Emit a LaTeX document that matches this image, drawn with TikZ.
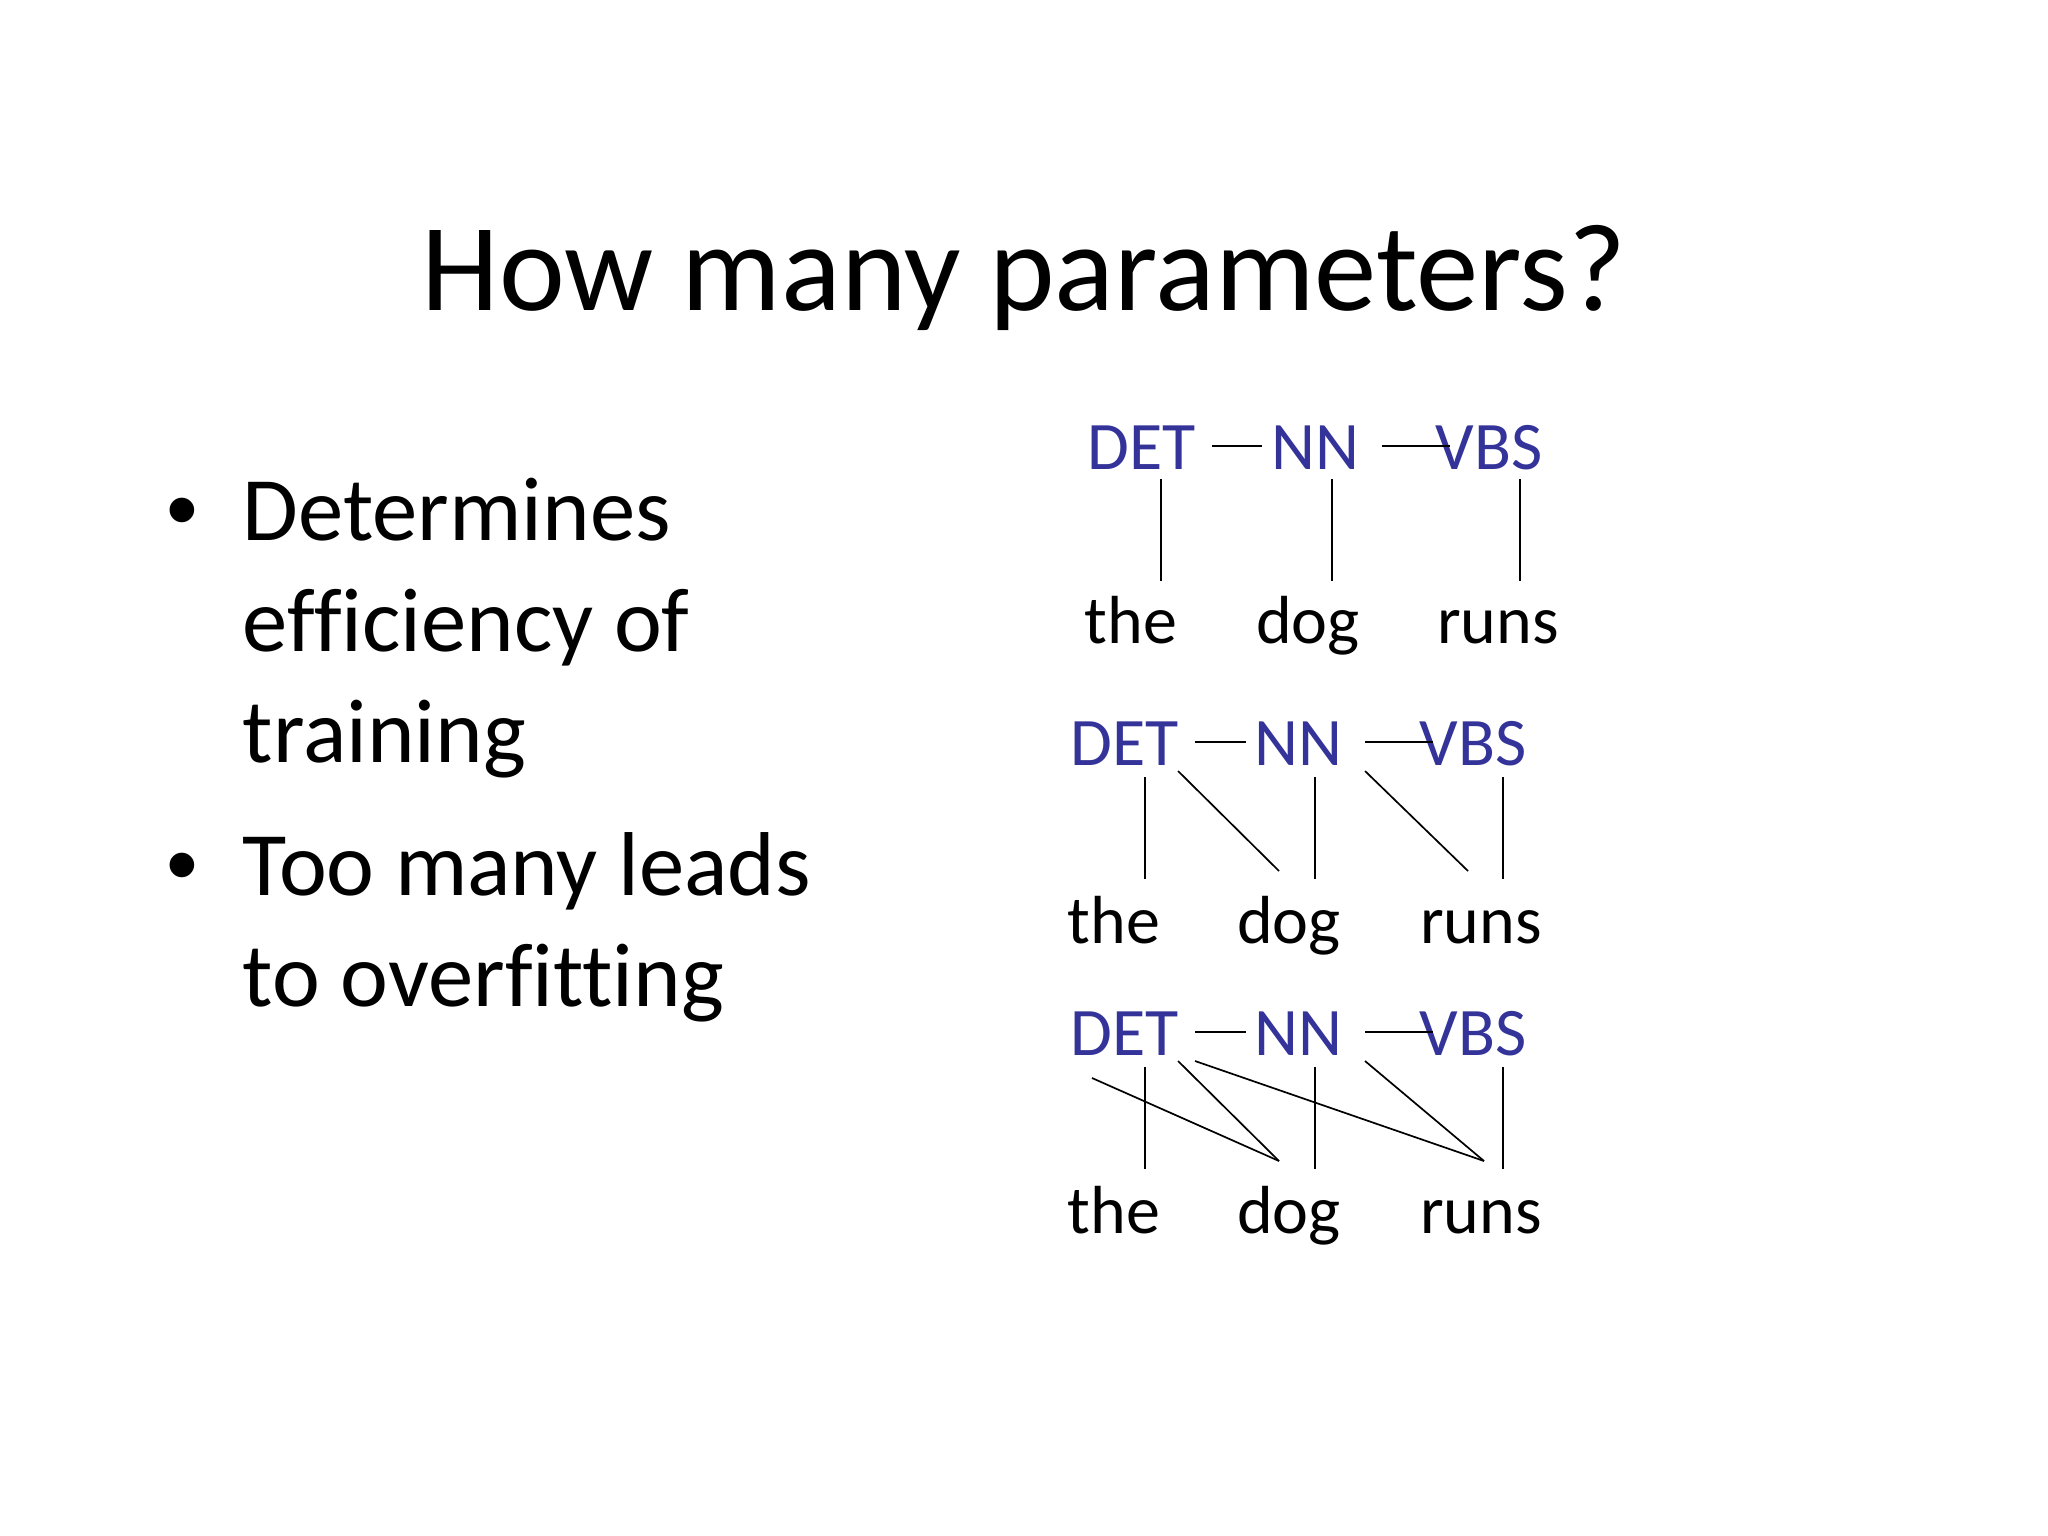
\documentclass[tikz,border=0pt]{standalone}
\usepackage{fontspec}
\setmainfont{Carlito}[Ligatures=NoCommon]
\newfontfamily\bulletfont{Liberation Sans}
\usetikzlibrary{calc}
\definecolor{tagblue}{RGB}{51,51,153}

\begin{document}
\begin{tikzpicture}[x=0.3515625bp, y=-0.3515625bp, line width=0.6pt,
  tag/.style={anchor=base, inner sep=0pt, text=tagblue, font=\fontsize{24}{28}\selectfont},
  word/.style={anchor=base, inner sep=0pt, font=\fontsize{24}{28}\selectfont},
  item/.style={anchor=base west, inner sep=0pt, align=left, font=\fontsize{32}{39}\selectfont},
  dot/.style={anchor=base, inner sep=0pt, font=\bulletfont\fontsize{32}{39}\selectfont}]
\useasboundingbox (0,0) rectangle (2048,1536);

% title and bullets (item nodes sit on their last line)
\node[anchor=base, inner sep=0pt, font=\fontsize{44}{52}\selectfont] (title) at (1024,310) {How many parameters?};
\node[dot] (b1) at (182,540) {•};
\node[item] (p1) at (242,762) {Determines\\efficiency of\\training};
\node[dot] (b2) at (182,895) {•};
\node[item] (p2) at (242,1006) {Too many leads\\to overfitting};

% one parameter per tag
\draw (1142,469) node[tag](det1){DET}
    (1315,469) node[tag](nn1){NN}
    (1489,469) node[tag](vbs1){VBS}
    (1131,643) node[word](the1){the}
    (1308,643) node[word](dog1){dog}
    (1498,643) node[word](runs1){runs};
    \draw ($(det1.base)+(70,-23)$) -- ($(nn1.base)+(-53,-23)$);
    \draw ($(nn1.base)+(67,-23)$) -- ($(vbs1.base)+(-39,-23)$);
    \draw ($(det1.base)+(19,10)$) -- ($(the1.base)+(30,-62)$);
    \draw ($(nn1.base)+(17,10)$) -- ($(dog1.base)+(24,-62)$);
    \draw ($(vbs1.base)+(31,10)$) -- ($(runs1.base)+(22,-62)$);

% word also depends on previous tag
\draw (1125,765) node[tag](det2){DET}
    (1298,765) node[tag](nn2){NN}
    (1473,765) node[tag](vbs2){VBS}
    (1114,943) node[word](the2){the}
    (1289,943) node[word](dog2){dog}
    (1481,943) node[word](runs2){runs};
    \draw ($(det2.base)+(70,-23)$) -- ($(nn2.base)+(-52,-23)$);
    \draw ($(nn2.base)+(67,-23)$) -- ($(vbs2.base)+(-40,-23)$);
    \draw ($(det2.base)+(20,12)$) -- ($(the2.base)+(31,-64)$);
    \draw ($(nn2.base)+(17,12)$) -- ($(dog2.base)+(26,-64)$);
    \draw ($(vbs2.base)+(30,12)$) -- ($(runs2.base)+(22,-64)$);
    \draw ($(det2.base)+(53,6)$) -- ($(dog2.base)+(-10,-72)$);
    \draw ($(nn2.base)+(67,6)$) -- ($(runs2.base)+(-13,-72)$);

% and on the tag before that
\draw (1125,1055) node[tag](det3){DET}
    (1298,1055) node[tag](nn3){NN}
    (1473,1055) node[tag](vbs3){VBS}
    (1114,1233) node[word](the3){the}
    (1289,1233) node[word](dog3){dog}
    (1481,1233) node[word](runs3){runs};
    \draw ($(det3.base)+(70,-23)$) -- ($(nn3.base)+(-52,-23)$);
    \draw ($(nn3.base)+(67,-23)$) -- ($(vbs3.base)+(-40,-23)$);
    \draw ($(det3.base)+(20,12)$) -- ($(the3.base)+(31,-64)$);
    \draw ($(nn3.base)+(17,12)$) -- ($(dog3.base)+(26,-64)$);
    \draw ($(vbs3.base)+(30,12)$) -- ($(runs3.base)+(22,-64)$);
    \draw ($(det3.base)+(-33,23)$) -- ($(dog3.base)+(-10,-72)$);
    \draw ($(det3.base)+(53,6)$) -- ($(dog3.base)+(-10,-72)$);
    \draw ($(det3.base)+(70,6)$) -- ($(runs3.base)+(3,-72)$);
    \draw ($(nn3.base)+(67,6)$) -- ($(runs3.base)+(3,-72)$);
\end{tikzpicture}
\end{document}
